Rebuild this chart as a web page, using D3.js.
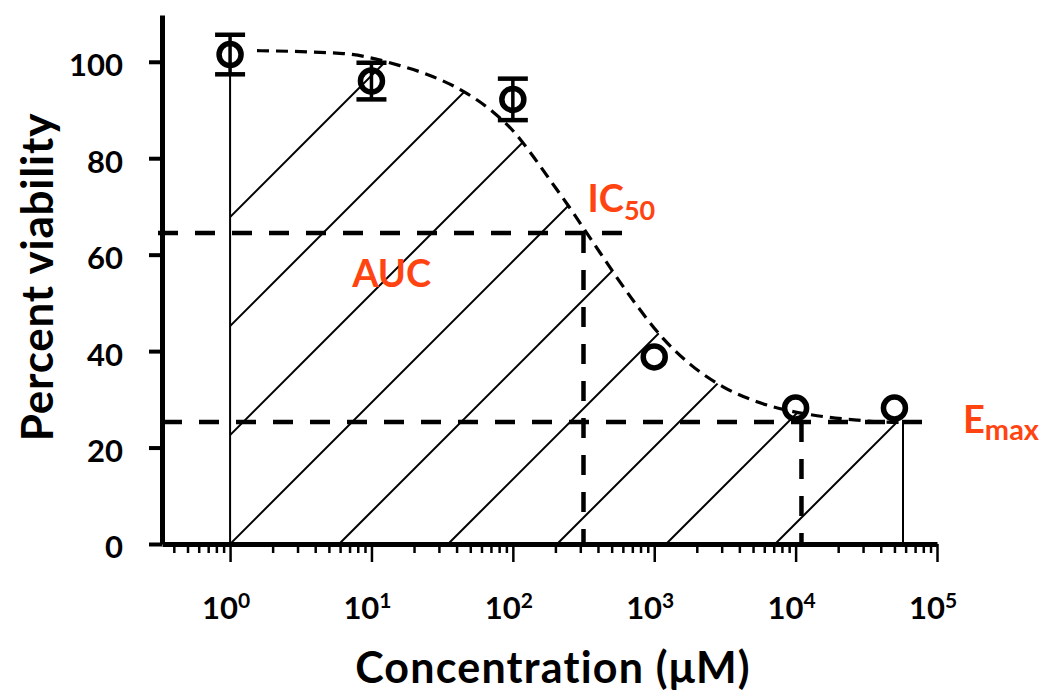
<!DOCTYPE html>
<html>
<head>
  <meta charset="UTF-8">
  <style>
    body { margin: 0; background: #fff; }
    text { font-family: Lato, "Open Sans", sans-serif; font-weight: bold; }
  </style>
</head>
<body>
  <svg></svg>
  <script src="https://d3js.org/d3.v7.min.js"></script>
  <script>
    // measured points (mean +/- error)
    const conc = [1, 10, 100, 1000, 10000, 50000];
    const viability = [101.5, 96.0, 92.2, 38.8, 28.2, 28.2];
    const errBar = [4.1, 3.8, 4.3, 0, 0, 0];

    // fitted curve
    const fitConc = [1.55, 6.3, 15.9, 27.3, 47.5, 72.4, 98.7, 132, 183, 267, 314, 414, 546, 756, 1150, 1790, 3070, 5330, 9120, 14200, 27200, 41500, 57500];
    const fitViability = [102.3, 101.7, 99.2, 96.9, 93.4, 89.6, 85.9, 81.3, 75.5, 68.7, 65.6, 60.4, 55.2, 49.4, 42.7, 37.3, 32.6, 29.5, 27.6, 26.6, 25.7, 25.3, 25.2];

    // reference markers
    const ic50 = 316, ic50Viability = 64.5, ic50LineEnd = 600;
    const emax = 25.3, emaxConc = 11000;
    const aucEnd = 57500;
    const aucLabelAt = [7.3, 53.3];

    const yTicks = [0, 20, 40, 60, 80, 100];
    const xMajor = [1, 10, 100, 1000, 10000, 100000];
    const xExponents = ["0", "1", "2", "3", "4", "5"];

    const width = 1045, height = 696;
    const orange = "#ff4411";

    let svg = d3.select("svg").attr("width", width).attr("height", height);

    let x = d3.scaleLog().domain([0.33, 1e5]).range([162, 937]);
    let y = d3.scaleLinear().domain([0, 109.7]).range([544, 15]);

    // minor ticks 2..9 for each decade inside the domain
    let xMinor = [];
    for (let k = -1; k <= 4; k++) {
      for (let m = 2; m <= 9; m++) {
        let v = m * Math.pow(10, k);
        if (v >= x.domain()[0] && v < x.domain()[1]) xMinor.push(v);
      }
    }

    // hatched AUC region
    let aucTop = [[conc[0], viability[0]]].concat(fitConc.map((c, i) => [c, fitViability[i]]));
    let area = d3.area()
      .x(d => x(d[0]))
      .y0(y(0))
      .y1(d => y(d[1]))
      .curve(d3.curveMonotoneX);

    svg.append("clipPath").attr("id", "aucClip")
      .append("path").attr("d", area(aucTop));

    let hatchGap = 109;
    let hatch = d3.range(-3, 6).map(k => x(conc[0]) + k * hatchGap);
    svg.append("g").attr("clip-path", "url(#aucClip)")
      .selectAll("line")
      .data(hatch)
      .enter().append("line")
      .attr("x1", d => d).attr("y1", y(0))
      .attr("x2", d => d + 700).attr("y2", y(0) - 700)
      .attr("stroke", "#000").attr("stroke-width", 2);

    // AUC boundaries
    svg.append("line")
      .attr("x1", x(conc[0])).attr("x2", x(conc[0]))
      .attr("y1", y(viability[0])).attr("y2", y(0))
      .attr("stroke", "#000").attr("stroke-width", 2);
    svg.append("line")
      .attr("x1", x(aucEnd)).attr("x2", x(aucEnd))
      .attr("y1", y(fitViability[fitViability.length - 1])).attr("y2", y(0))
      .attr("stroke", "#000").attr("stroke-width", 2);

    // dashed reference lines
    let refs = [
      [x.range()[0] - 4, y(ic50Viability), x(ic50LineEnd), y(ic50Viability)],
      [x(ic50), y(ic50Viability), x(ic50), y(0)],
      [x.range()[0], y(emax), x.range()[1] - 2, y(emax)],
      [x(emaxConc), y(emax), x(emaxConc), y(0)]
    ];
    svg.append("g").selectAll("line")
      .data(refs)
      .enter().append("line")
      .attr("x1", d => d[0]).attr("y1", d => d[1])
      .attr("x2", d => d[2]).attr("y2", d => d[3])
      .attr("stroke", "#000").attr("stroke-width", 4.5)
      .attr("stroke-dasharray", "20,17");

    // fitted curve
    let fitLine = d3.line()
      .x((d, i) => x(fitConc[i]))
      .y(d => y(d))
      .curve(d3.curveMonotoneX);
    svg.append("path")
      .attr("d", fitLine(fitViability))
      .attr("fill", "none")
      .attr("stroke", "#000").attr("stroke-width", 3.2)
      .attr("stroke-dasharray", "12,7");

    // error bars and points
    let withErr = conc.map((c, i) => i).filter(i => errBar[i] > 0);
    let bars = svg.append("g").selectAll("g")
      .data(withErr)
      .enter().append("g");
    bars.append("line")
      .attr("x1", i => x(conc[i])).attr("x2", i => x(conc[i]))
      .attr("y1", i => y(viability[i] + errBar[i]))
      .attr("y2", i => y(viability[i] - errBar[i]))
      .attr("stroke", "#000").attr("stroke-width", 3.5);
    [1, -1].forEach(s => {
      bars.append("line")
        .attr("x1", i => x(conc[i]) - 15).attr("x2", i => x(conc[i]) + 15)
        .attr("y1", i => y(viability[i] + s * errBar[i]))
        .attr("y2", i => y(viability[i] + s * errBar[i]))
        .attr("stroke", "#000").attr("stroke-width", 4.5);
    });
    svg.append("g").selectAll("circle")
      .data(conc)
      .enter().append("circle")
      .attr("cx", d => x(d))
      .attr("cy", (d, i) => y(viability[i]))
      .attr("r", 11)
      .attr("fill", "none")
      .attr("stroke", "#000").attr("stroke-width", 5.5);

    // axes
    let yAxis = svg.append("g")
      .attr("transform", "translate(" + x.range()[0] + ",0)")
      .call(d3.axisLeft(y).tickValues(yTicks).tickSize(13).tickSizeOuter(0).tickPadding(26));
    yAxis.select(".domain").attr("stroke-width", 5);
    yAxis.selectAll(".tick line").attr("stroke-width", 4);
    yAxis.selectAll(".tick text")
      .attr("font-size", 31).attr("font-family", "Lato").attr("font-weight", "bold")
      .attr("fill", "#000").attr("dy", "0.45em");

    let xAxis = svg.append("g")
      .attr("transform", "translate(0," + y(0) + ")")
      .call(d3.axisBottom(x).tickValues(xMinor.concat(xMajor)).tickSize(9).tickSizeOuter(0).tickFormat(""));
    xAxis.select(".domain").attr("stroke-width", 5);
    xAxis.selectAll(".tick line")
      .attr("stroke-width", 2.5)
      .attr("y2", d => xMajor.includes(d) ? 18 : 9);

    let xLabels = svg.append("g").selectAll("text")
      .data(xMajor)
      .enter().append("text")
      .attr("x", d => x(d) - 4)
      .attr("y", 619)
      .attr("text-anchor", "middle")
      .attr("font-size", 31);
    xLabels.append("tspan").text("10");
    xLabels.append("tspan").attr("font-size", 21).attr("dy", -11).text((d, i) => xExponents[i]);

    // axis titles
    svg.append("text")
      .attr("x", 553).attr("y", 683)
      .attr("text-anchor", "middle")
      .attr("font-size", 43).attr("letter-spacing", 1.2)
      .text("Concentration (\u03bcM)");
    svg.append("text")
      .attr("transform", "translate(53,277) rotate(-90)")
      .attr("text-anchor", "middle")
      .attr("font-size", 44).attr("letter-spacing", 0.8)
      .text("Percent viability");

    // annotations
    let icText = svg.append("text")
      .attr("x", x(ic50) + 4).attr("y", y(ic50Viability) - 21)
      .attr("fill", orange).attr("font-size", 38);
    icText.append("tspan").text("IC");
    icText.append("tspan").attr("font-size", 27).attr("dy", 8).text("50");

    svg.append("text")
      .attr("x", x(aucLabelAt[0])).attr("y", y(aucLabelAt[1]))
      .attr("fill", orange).attr("font-size", 38)
      .text("AUC");

    let emText = svg.append("text")
      .attr("x", x.range()[1] + 26).attr("y", y(emax) + 11)
      .attr("fill", orange).attr("font-size", 38);
    emText.append("tspan").text("E");
    emText.append("tspan").attr("font-size", 29).attr("dy", 7).text("max");
  </script>
</body>
</html>
